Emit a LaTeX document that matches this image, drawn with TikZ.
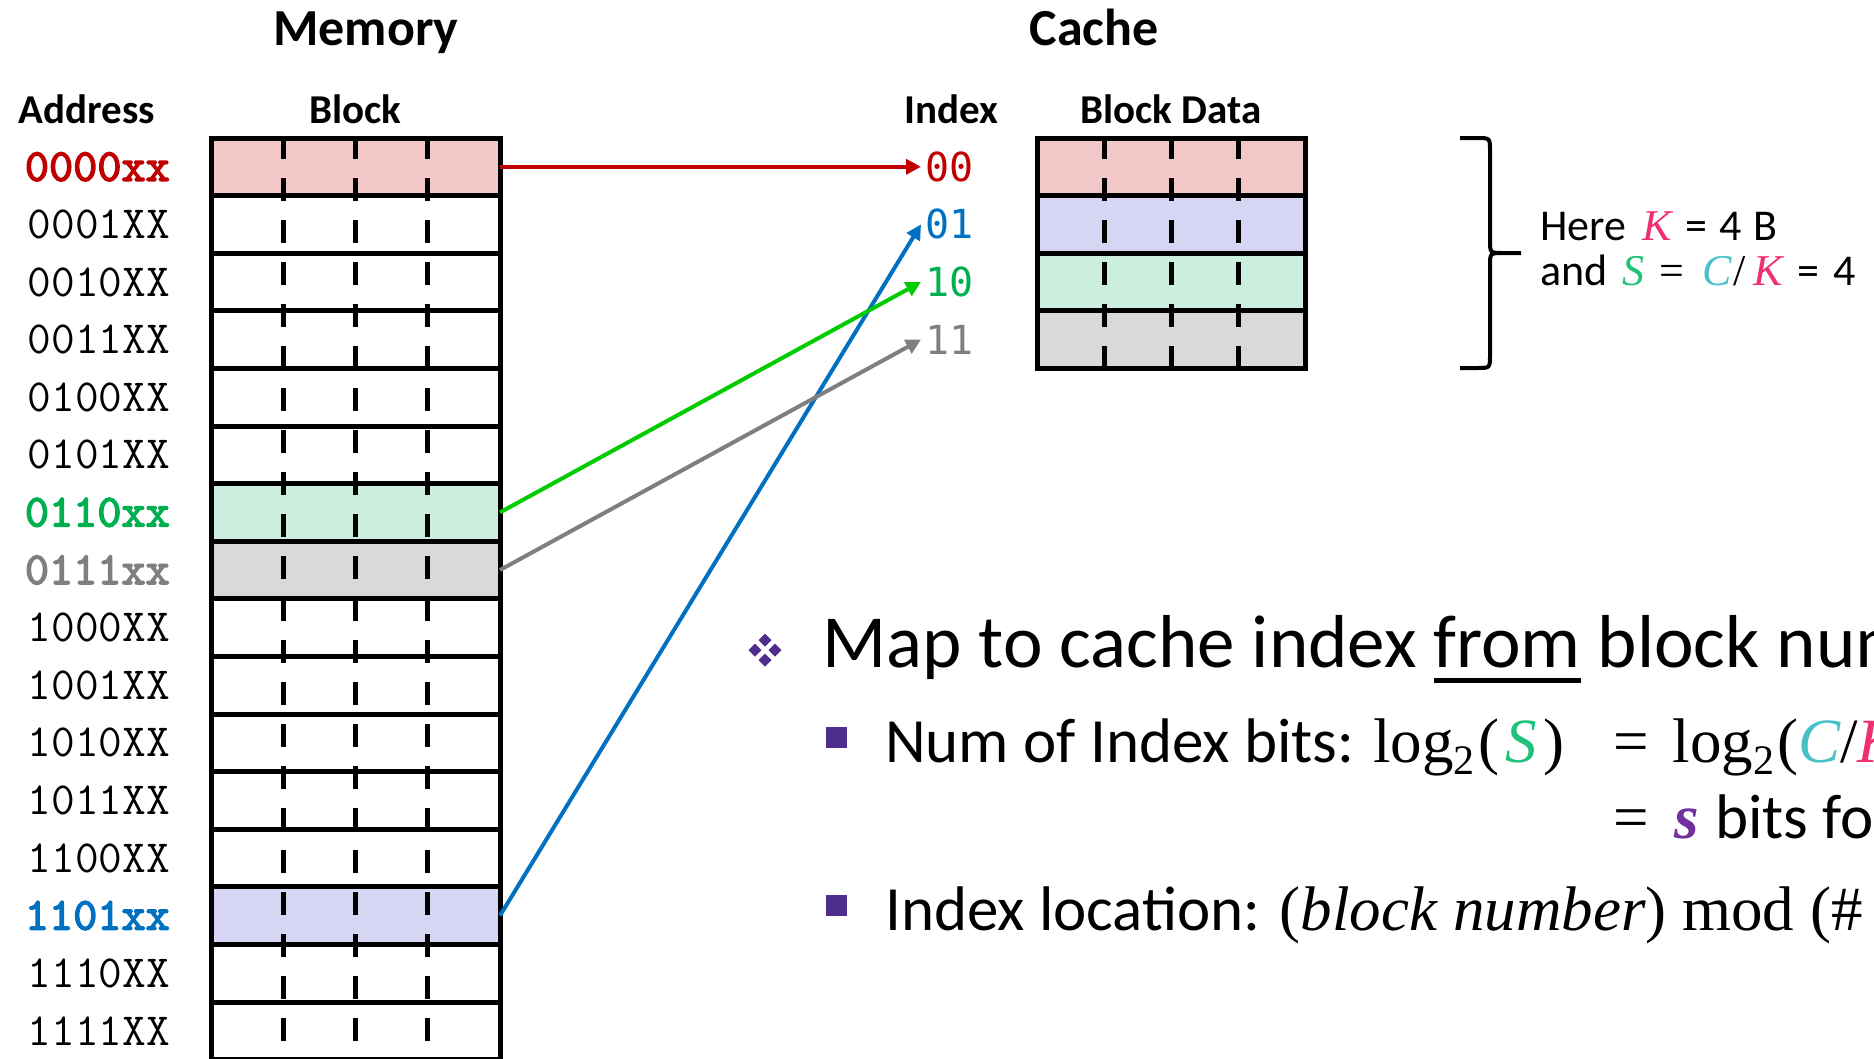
\documentclass[tikz,border=0pt]{standalone}
\usepackage{fontspec}
\setmainfont{Carlito}
\newfontfamily\idxfont{DejaVu Sans Mono}
\newfontfamily\serifmath{Liberation Serif}
\newfontfamily\addrbold{lmmono10-regular}[Extension=.otf, FakeBold=3]
\usetikzlibrary{arrows.meta,positioning}

\definecolor{memred}{HTML}{C00000}
\definecolor{memblue}{HTML}{0070C0}
\definecolor{memgreen}{HTML}{00B050}
\definecolor{arrgreen}{HTML}{00CC00}
\definecolor{labgray}{HTML}{7F7F7F}
\definecolor{fillred}{HTML}{F2C7C7}
\definecolor{fillblue}{HTML}{D6D6F4}
\definecolor{fillgreen}{HTML}{CCEEDE}
\definecolor{fillgray}{HTML}{D9D9D9}
\definecolor{varK}{HTML}{F0306E}
\definecolor{varS}{HTML}{1EC27A}
\definecolor{varC}{HTML}{48C0C8}
\definecolor{vars}{HTML}{7030A0}
\definecolor{bulletpurple}{HTML}{4F2D8C}

\newcommand{\pxsize}[1]{\fontsize{#1}{#1}\selectfont}
\newcommand{\fromline}[1]{\setbox0\hbox{#1}\rlap{\rule[-16pt]{\wd0}{5pt}}\box0\relax}
\newcommand{\logtwo}{log\lower12pt\hbox{\pxsize{42}2}}

\tikzset{
  cell/.style={draw, line width=5pt, minimum height=57.6pt, inner sep=0pt, outer sep=0pt},
  memcell/.style={cell, minimum width=289pt},
  cachecell/.style={cell, minimum width=268pt},
  cut/.style={line width=5pt, dash pattern=on 23pt off 19pt},
  addr/.style={font=\pxsize{46}\ttfamily, inner sep=0pt},
  idx/.style={font=\pxsize{40}\idxfont, inner sep=4pt, anchor=west},
  headtext/.style={font=\pxsize{52}\bfseries, inner sep=0pt, anchor=base},
  colhead/.style={font=\pxsize{41}\bfseries, inner sep=0pt, anchor=base},
  note/.style={font=\pxsize{44}, inner sep=0pt, anchor=base west},
  bigtext/.style={font=\pxsize{75}, inner sep=0pt, anchor=base west},
  midtext/.style={font=\pxsize{63}, inner sep=0pt, anchor=base west},
  link/.style={line width=4pt, -{Triangle[length=15pt,width=15pt]}},
}

\begin{document}
\begin{tikzpicture}[x=1pt,y=-1pt]
  \useasboundingbox (0,0) rectangle (1874,1058);
  \clip (0,0) rectangle (1874,1058);

  % headings
  \node[headtext] (memhead) at (366,45) {Memory};
  \node[headtext] (cachehead) at (1094,45) {Cache};
  \node[colhead] (addrhead) at (87,123) {Address};
  \node[colhead] (blockhead) at (355.5,123) {Block};
  \node[colhead] (idxhead) at (951,123) {Index};
  \node[colhead] (datahead) at (1171,123) {Block Data};

  % memory blocks
  \foreach \bits/\tail/\fcol/\tcol/\wt [count=\i from 0] in {
      0000/xx/fillred/memred/\addrbold, 0001/XX/white/black/\relax, 0010/XX/white/black/\relax, 0011/XX/white/black/\relax,
      0100/XX/white/black/\relax, 0101/XX/white/black/\relax, 0110/xx/fillgreen/memgreen/\addrbold, 0111/xx/fillgray/labgray/\addrbold,
      1000/XX/white/black/\relax, 1001/XX/white/black/\relax, 1010/XX/white/black/\relax, 1011/XX/white/black/\relax,
      1100/XX/white/black/\relax, 1101/xx/fillblue/memblue/\addrbold, 1110/XX/white/black/\relax, 1111/XX/white/black/\relax}
  {
    \node[memcell, fill=\fcol] (m\i) at (355.5,{166.8+57.6*\i}) {};
    \node[addr, text=\tcol, left=41pt of m\i] (a\i) {\wt\bits\tail};
  }
  \foreach \x in {283.25,355.5,427.75}
    \draw[cut] (\x,136) -- (\x,1062);

  % cache lines
  \foreach \fcol/\tcol/\lbl [count=\k from 0] in {
      fillred/memred/00, fillblue/memblue/01, fillgreen/memgreen/10, fillgray/labgray/11}
  {
    \node[cachecell, fill=\fcol] (c\k) at (1171,{166.8+57.6*\k}) {};
    \node[idx, text=\tcol] (i\k) at (921,{166.8+57.6*\k}) {\lbl};
  }
  \foreach \x in {1104,1171,1238}
    \draw[cut] (\x,136) -- (\x,370);

  % mapping
  \draw[link, memred] (m0.east) -- (i0.west);
  \draw[link, memblue] (m13.east) -- (i1.west);
  \draw[link, arrgreen] (m6.east) -- (i2.west);
  \draw[link, labgray] (m7.east) -- (i3.west);

  % brace
  \draw[line width=4pt]
    (1460,138) -- (1477,138) .. controls (1490,138) .. (1490,151) -- (1490,240)
    .. controls (1490,253) .. (1503,253) -- (1521,253)
    (1503,253) .. controls (1490,253) .. (1490,266) -- (1490,355)
    .. controls (1490,368) .. (1477,368) -- (1460,368);
  \node[note] (kdef) at (1540,240)
    {Here\hspace{16pt}{\serifmath\itshape\color{varK}K}\hspace{14pt}=\hspace{12pt}4\hspace{12pt}B};
  \node[note] (sdef) at (1540,285)
    {and\hspace{15pt}{\serifmath\itshape\color{varS}S}\hspace{15pt}{\serifmath =}\hspace{18pt}{\serifmath\itshape\color{varC}C}\hspace{2pt}{\serifmath /}\hspace{8pt}{\serifmath\itshape\color{varK}K}\hspace{14pt}=\hspace{14pt}4};

  % bullets
  \foreach \dx/\dy in {0/-10,-10/0,10/0,0/10}
    \fill[bulletpurple] (765+\dx,650+\dy) +(0,-6.5) -- +(6.5,0) -- +(0,6.5) -- +(-6.5,0) -- cycle;
  \fill[bulletpurple] (826,727) rectangle (847,748);
  \fill[bulletpurple] (826,895) rectangle (847,916);

  \node[bigtext] (mapline) at (822,667) {Map to cache index \fromline{from} block number};
  \node[midtext] (bitsline) at (885,762)
    {Num of Index bits: {\serifmath\logtwo\hspace{4pt}(\hspace{6pt}{\itshape\color{varS}S}\hspace{6pt})}};
  \node[midtext] (logline) at (1613,762)
    {{\serifmath =\hspace{24pt}\logtwo\hspace{3pt}({\itshape\color{varC}C}/{\itshape\color{varK}K})}};
  \node[midtext] (sline) at (1613,838)
    {{\serifmath =}\hspace{26pt}{\serifmath\bfseries\itshape\color{vars}s}\hspace{16pt}bits for index};
  \node[midtext] (modline) at (885,930)
    {Index location: {\serifmath(\textit{block number}) mod (\# sets)}};
\end{tikzpicture}
\end{document}
